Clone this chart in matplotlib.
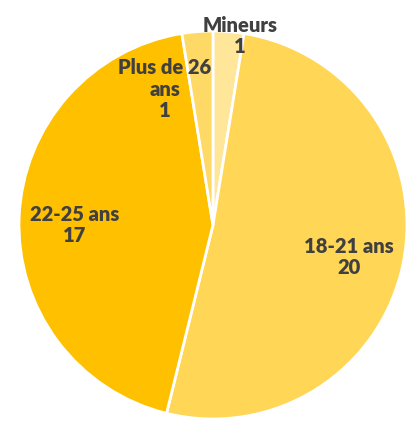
import matplotlib.pyplot as plt

categories = ["Mineurs", "18-21 ans", "22-25 ans", "Plus de 26 ans"]
values = [1, 20, 17, 1]
colors = ["#FFE699", "#FFD655", "#FFC000", "#FFD966"]

# label text and where it sits (pie data coords, radius = 1)
label_texts = ["Mineurs\n1", "18-21 ans\n20", "22-25 ans\n17", "Plus de 26\nans\n1"]
label_pos = [(0.139, 0.975), (0.70, -0.165), (-0.714, 0.0), (-0.247, 0.70)]

fig = plt.figure(figsize=(4.14, 4.21), dpi=100)
ax = fig.add_axes([0.0459, 0.0048, 0.937, 0.9216])

ax.pie(values, colors=colors, startangle=90, counterclock=False,
       wedgeprops=dict(edgecolor="white", linewidth=2))
ax.set_xlim(-1, 1)
ax.set_ylim(-1, 1)
ax.set_aspect("auto")

for txt, (x, y) in zip(label_texts, label_pos):
    ax.text(x, y, txt, ha="center", va="center", fontsize=14.5, fontweight="heavy",
            family="Lato", color="#404040", linespacing=1.15)

fig.savefig("out.png", dpi=100)
